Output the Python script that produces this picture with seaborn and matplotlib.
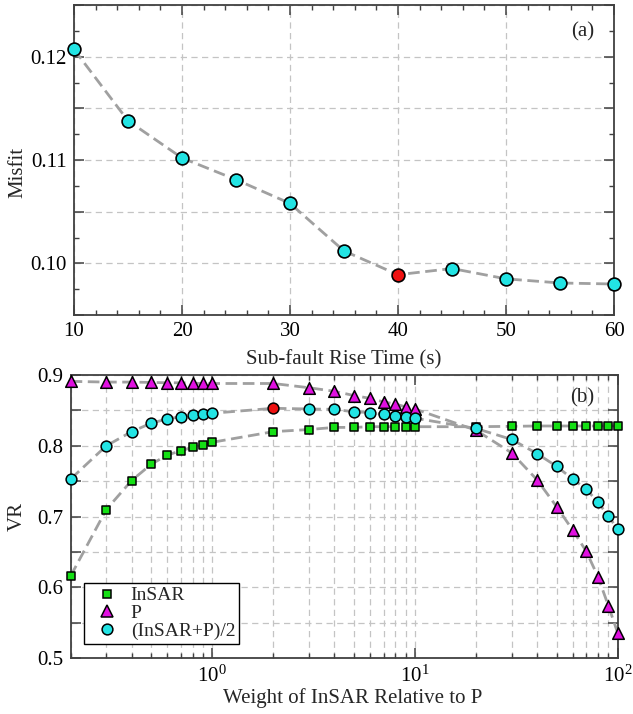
import matplotlib
matplotlib.use("Agg")
import matplotlib.pyplot as plt
from matplotlib.ticker import MultipleLocator, FuncFormatter, LogLocator, NullFormatter
from matplotlib.lines import Line2D
import numpy as np
import pandas as pd
import seaborn as sns

# ---------------------------------------------------------------- data
rise_time = [10, 15, 20, 25, 30, 35, 40, 45, 50, 55, 60]
misfit = [0.1207, 0.1138, 0.1102, 0.1081, 0.1058, 0.1012,
          0.0989, 0.0995, 0.0985, 0.0981, 0.0980]
best_rise_time = 40

weights = [0.2, 0.3, 0.4, 0.5, 0.6, 0.7, 0.8, 0.9, 1,
           2, 3, 4, 5, 6, 7, 8, 9, 10,
           20, 30, 40, 50, 60, 70, 80, 90, 100]
vr_insar = [0.616, 0.710, 0.751, 0.774, 0.787, 0.793, 0.798, 0.801, 0.805,
            0.820, 0.823, 0.826, 0.826, 0.827, 0.827, 0.827, 0.827, 0.827,
            0.827, 0.8275, 0.828, 0.828, 0.828, 0.828, 0.828, 0.828, 0.828]
vr_p = [0.891, 0.890, 0.890, 0.8895, 0.889, 0.889, 0.8885, 0.888, 0.888,
        0.888, 0.882, 0.877, 0.871, 0.867, 0.862, 0.859, 0.855, 0.852,
        0.822, 0.790, 0.752, 0.714, 0.681, 0.651, 0.615, 0.574, 0.536]
vr_avg = [0.753, 0.800, 0.820, 0.832, 0.838, 0.841, 0.843, 0.845, 0.846,
          0.853, 0.852, 0.8515, 0.848, 0.847, 0.8445, 0.842, 0.840, 0.839,
          0.8245, 0.809, 0.789, 0.771, 0.753, 0.739, 0.720, 0.701, 0.682]
best_weight = 2

series_labels = ["InSAR", "P", "(InSAR+P)/2"]

# ---------------------------------------------------------------- style
sns.set_theme(style="white")
plt.rcParams["font.family"] = ["Liberation Serif", "DejaVu Serif"]
plt.rcParams["mathtext.fontset"] = "custom"
plt.rcParams["mathtext.rm"] = "Liberation Serif"
plt.rcParams["mathtext.it"] = "Liberation Serif:italic"
plt.rcParams["mathtext.bf"] = "Liberation Serif:bold"

FS = 15
LINE_C = "#a0a0a0"
GRID_C = "#c4c4c4"
SPINE_C = "#404040"
CYAN = "#22e4e4"
MAGENTA = "#e010e0"
GREEN = "#14e014"
RED = "#ee1111"
DASH = (0, (4.2, 2.0))
GRID_DASH = (0, (5, 3.5))


def style_axes(ax):
    for sp in ax.spines.values():
        sp.set_color(SPINE_C)
        sp.set_linewidth(1.3)
    ax.tick_params(which="both", direction="in", top=True, right=True,
                   bottom=True, left=True, colors=SPINE_C,
                   labelcolor="black", labelsize=FS)
    ax.tick_params(which="major", length=7, width=1.1, pad=5)
    ax.tick_params(which="minor", length=3.8, width=1.0)
    ax.set_facecolor("white")


fig = plt.figure(figsize=(6.33, 7.14), dpi=100)

# ---------------------------------------------------------------- (a)
ax1 = fig.add_axes([0.1169, 0.5588, 0.8531, 0.4342])
df_a = pd.DataFrame({"rise": rise_time, "misfit": misfit})
sns.lineplot(data=df_a, x="rise", y="misfit", ax=ax1, color=LINE_C,
             linewidth=2.0, linestyle=DASH, estimator=None, sort=False,
             zorder=2)
is_best = df_a["rise"] == best_rise_time
sns.scatterplot(data=df_a[~is_best], x="rise", y="misfit", ax=ax1,
                color=CYAN, edgecolor="black", linewidth=1.2, s=85,
                marker="o", zorder=3, clip_on=False)
sns.scatterplot(data=df_a[is_best], x="rise", y="misfit", ax=ax1,
                color=RED, edgecolor="black", linewidth=1.2, s=85,
                marker="o", zorder=3, clip_on=False)

ax1.set_xlim(10, 60)
ax1.set_ylim(0.095, 0.125)
ax1.xaxis.set_major_locator(MultipleLocator(10))
ax1.xaxis.set_minor_locator(MultipleLocator(2))
ax1.yaxis.set_major_locator(MultipleLocator(0.005))
ax1.yaxis.set_minor_locator(MultipleLocator(0.0025))
ax1.yaxis.set_major_formatter(FuncFormatter(
    lambda v, p: f"{v:.2f}" if abs(v / 0.01 - round(v / 0.01)) < 1e-6 else ""))
style_axes(ax1)
ax1.grid(True, which="major", color=GRID_C, linestyle=GRID_DASH, linewidth=0.9)
ax1.set_axisbelow(True)
ax1.set_xlabel("Sub-fault Rise Time (s)", fontsize=FS)
ax1.set_ylabel("Misfit", fontsize=FS, va="center")
ax1.xaxis.set_label_coords(0.5, -0.113)
ax1.yaxis.set_label_coords(-0.104, 0.46)
ax1.text(0.9426, 0.913, "(a)", transform=ax1.transAxes, fontsize=FS,
         ha="center", va="center")

# ---------------------------------------------------------------- (b)
ax2 = fig.add_axes([0.1115, 0.0780, 0.8643, 0.3968])
ax2.set_xscale("log")
df_b = pd.DataFrame({"weight": weights, "InSAR": vr_insar, "P": vr_p,
                     "(InSAR+P)/2": vr_avg})

for col in series_labels:
    sns.lineplot(data=df_b, x="weight", y=col, ax=ax2, color=LINE_C,
                 linewidth=2.0, linestyle=DASH, estimator=None, sort=False,
                 zorder=2)

marker_specs = {"InSAR": ("s", GREEN, 40),
                "P": ("^", MAGENTA, 70),
                "(InSAR+P)/2": ("o", CYAN, 60)}
best_b = df_b["weight"] == best_weight
for col in series_labels:
    mk, colr, size = marker_specs[col]
    sub = df_b if col != "(InSAR+P)/2" else df_b[~best_b]
    sns.scatterplot(data=sub, x="weight", y=col, ax=ax2, marker=mk,
                    color=colr, edgecolor="black", linewidth=1.1, s=size,
                    zorder=3, clip_on=False)
sns.scatterplot(data=df_b[best_b], x="weight", y="(InSAR+P)/2", ax=ax2,
                marker="o", color=RED, edgecolor="black", linewidth=1.1,
                s=60, zorder=3, clip_on=False)

ax2.set_xlim(0.2, 100)
ax2.set_ylim(0.5, 0.9)
ax2.xaxis.set_major_locator(LogLocator(base=10))
ax2.xaxis.set_minor_locator(LogLocator(base=10, subs=np.arange(2, 10)))
ax2.xaxis.set_minor_formatter(NullFormatter())
ax2.yaxis.set_major_locator(MultipleLocator(0.05))
ax2.yaxis.set_major_formatter(FuncFormatter(
    lambda v, p: f"{v:.1f}" if abs(v / 0.1 - round(v / 0.1)) < 1e-6 else ""))
style_axes(ax2)
ax2.grid(True, which="both", axis="x", color=GRID_C, linestyle=GRID_DASH,
         linewidth=0.9)
ax2.grid(True, which="major", axis="y", color=GRID_C, linestyle=GRID_DASH,
         linewidth=0.9)
ax2.set_axisbelow(True)
ax2.set_xlabel("Weight of InSAR Relative to P", fontsize=FS)
ax2.set_ylabel("VR", fontsize=FS, va="center")
ax2.xaxis.set_label_coords(0.515, -0.105)
ax2.yaxis.set_label_coords(-0.098, 0.5)
ax2.text(0.936, 0.918, "(b)", transform=ax2.transAxes, fontsize=FS,
         ha="center", va="center")

handles = [Line2D([], [], linestyle="none", marker=marker_specs[c][0],
                  markerfacecolor=marker_specs[c][1], markeredgecolor="black",
                  markeredgewidth=1.1, markersize=np.sqrt(marker_specs[c][2]))
           for c in series_labels]
leg = ax2.legend(handles, series_labels, loc="upper left",
                 bbox_to_anchor=(0.0245, 0.266), borderaxespad=0,
                 frameon=True, fancybox=False, framealpha=1,
                 edgecolor="black", fontsize=14, handlelength=2.0,
                 handletextpad=0.2, labelspacing=0.0, borderpad=0.2)
leg.get_frame().set_linewidth(1.0)
leg.set_zorder(5)

fig.savefig("out.png", dpi=100)
